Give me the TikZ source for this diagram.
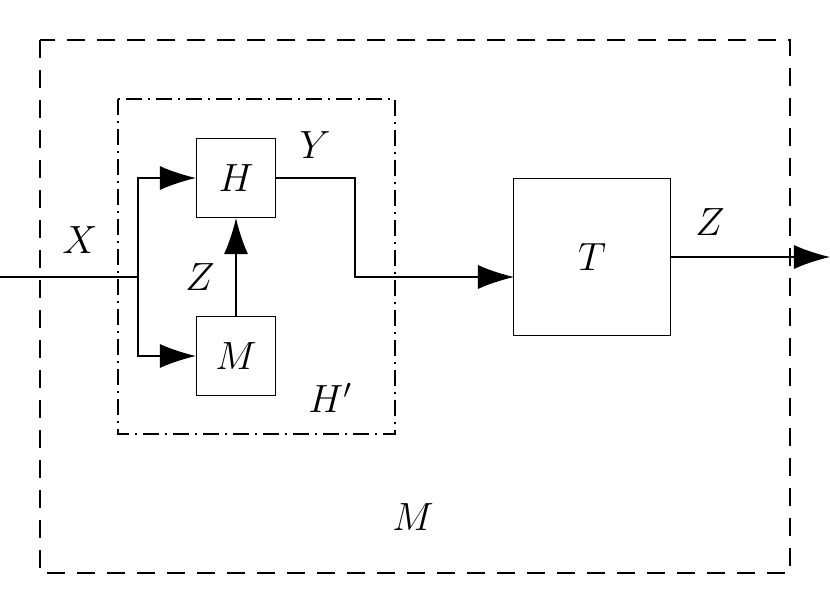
\documentclass[tikz,border=0pt]{standalone}
\usetikzlibrary{arrows.meta,positioning}
\begin{document}
\begin{tikzpicture}[x=0.025cm,y=-0.025cm,line width=0.8pt,
    blk/.style={draw,minimum size=1.975cm,inner sep=0pt},
    lbl/.style={font=\huge,scale=1.35},
    arr/.style={-{Latex[length=0.9cm,width=0.6cm]}}]
    \useasboundingbox (0,0) rectangle (830,613);
    \draw[dash pattern=on 0.45cm off 0.3cm] (40,40) rectangle (790,573);
    \draw[dash pattern=on 0.4cm off 0.15cm on 0.05cm off 0.15cm] (118,99) rectangle (395,434);
    \node[blk] (H) at (236,178) {};
    \node[blk] (M) at (236,356) {};
    \node[draw,minimum size=3.925cm,inner sep=0pt] (T) at (592,257) {};
    \node[lbl] at (H) {$H$};
    \node[lbl] at (M) {$M$};
    \node[lbl] at (T) {$T$};
    \coordinate (in) at (0,277);
    \coordinate (sp) at (138,277);
    \coordinate (Tin) at (514,277);
    \coordinate (out) at (830,257);
    \draw (in) -- (sp);
    \draw[arr] (sp) |- (H.west);
    \draw[arr] (sp) |- (M.west);
    \draw[arr] (M) -- (H);
    \draw[arr] (H.east) -- (355,178) |- (Tin);
    \draw[arr] (T.east) -- (out);
    \node[lbl] at (80,240) {$X$};
    \node[lbl] at (200,277) {$Z$};
    \node[lbl] at (315,145) {$Y$};
    \node[lbl] at (710,222) {$Z$};
    \node[lbl] at (330,398) {$H'$};
    \node[lbl] at (413,517) {$M$};
\end{tikzpicture}
\end{document}
